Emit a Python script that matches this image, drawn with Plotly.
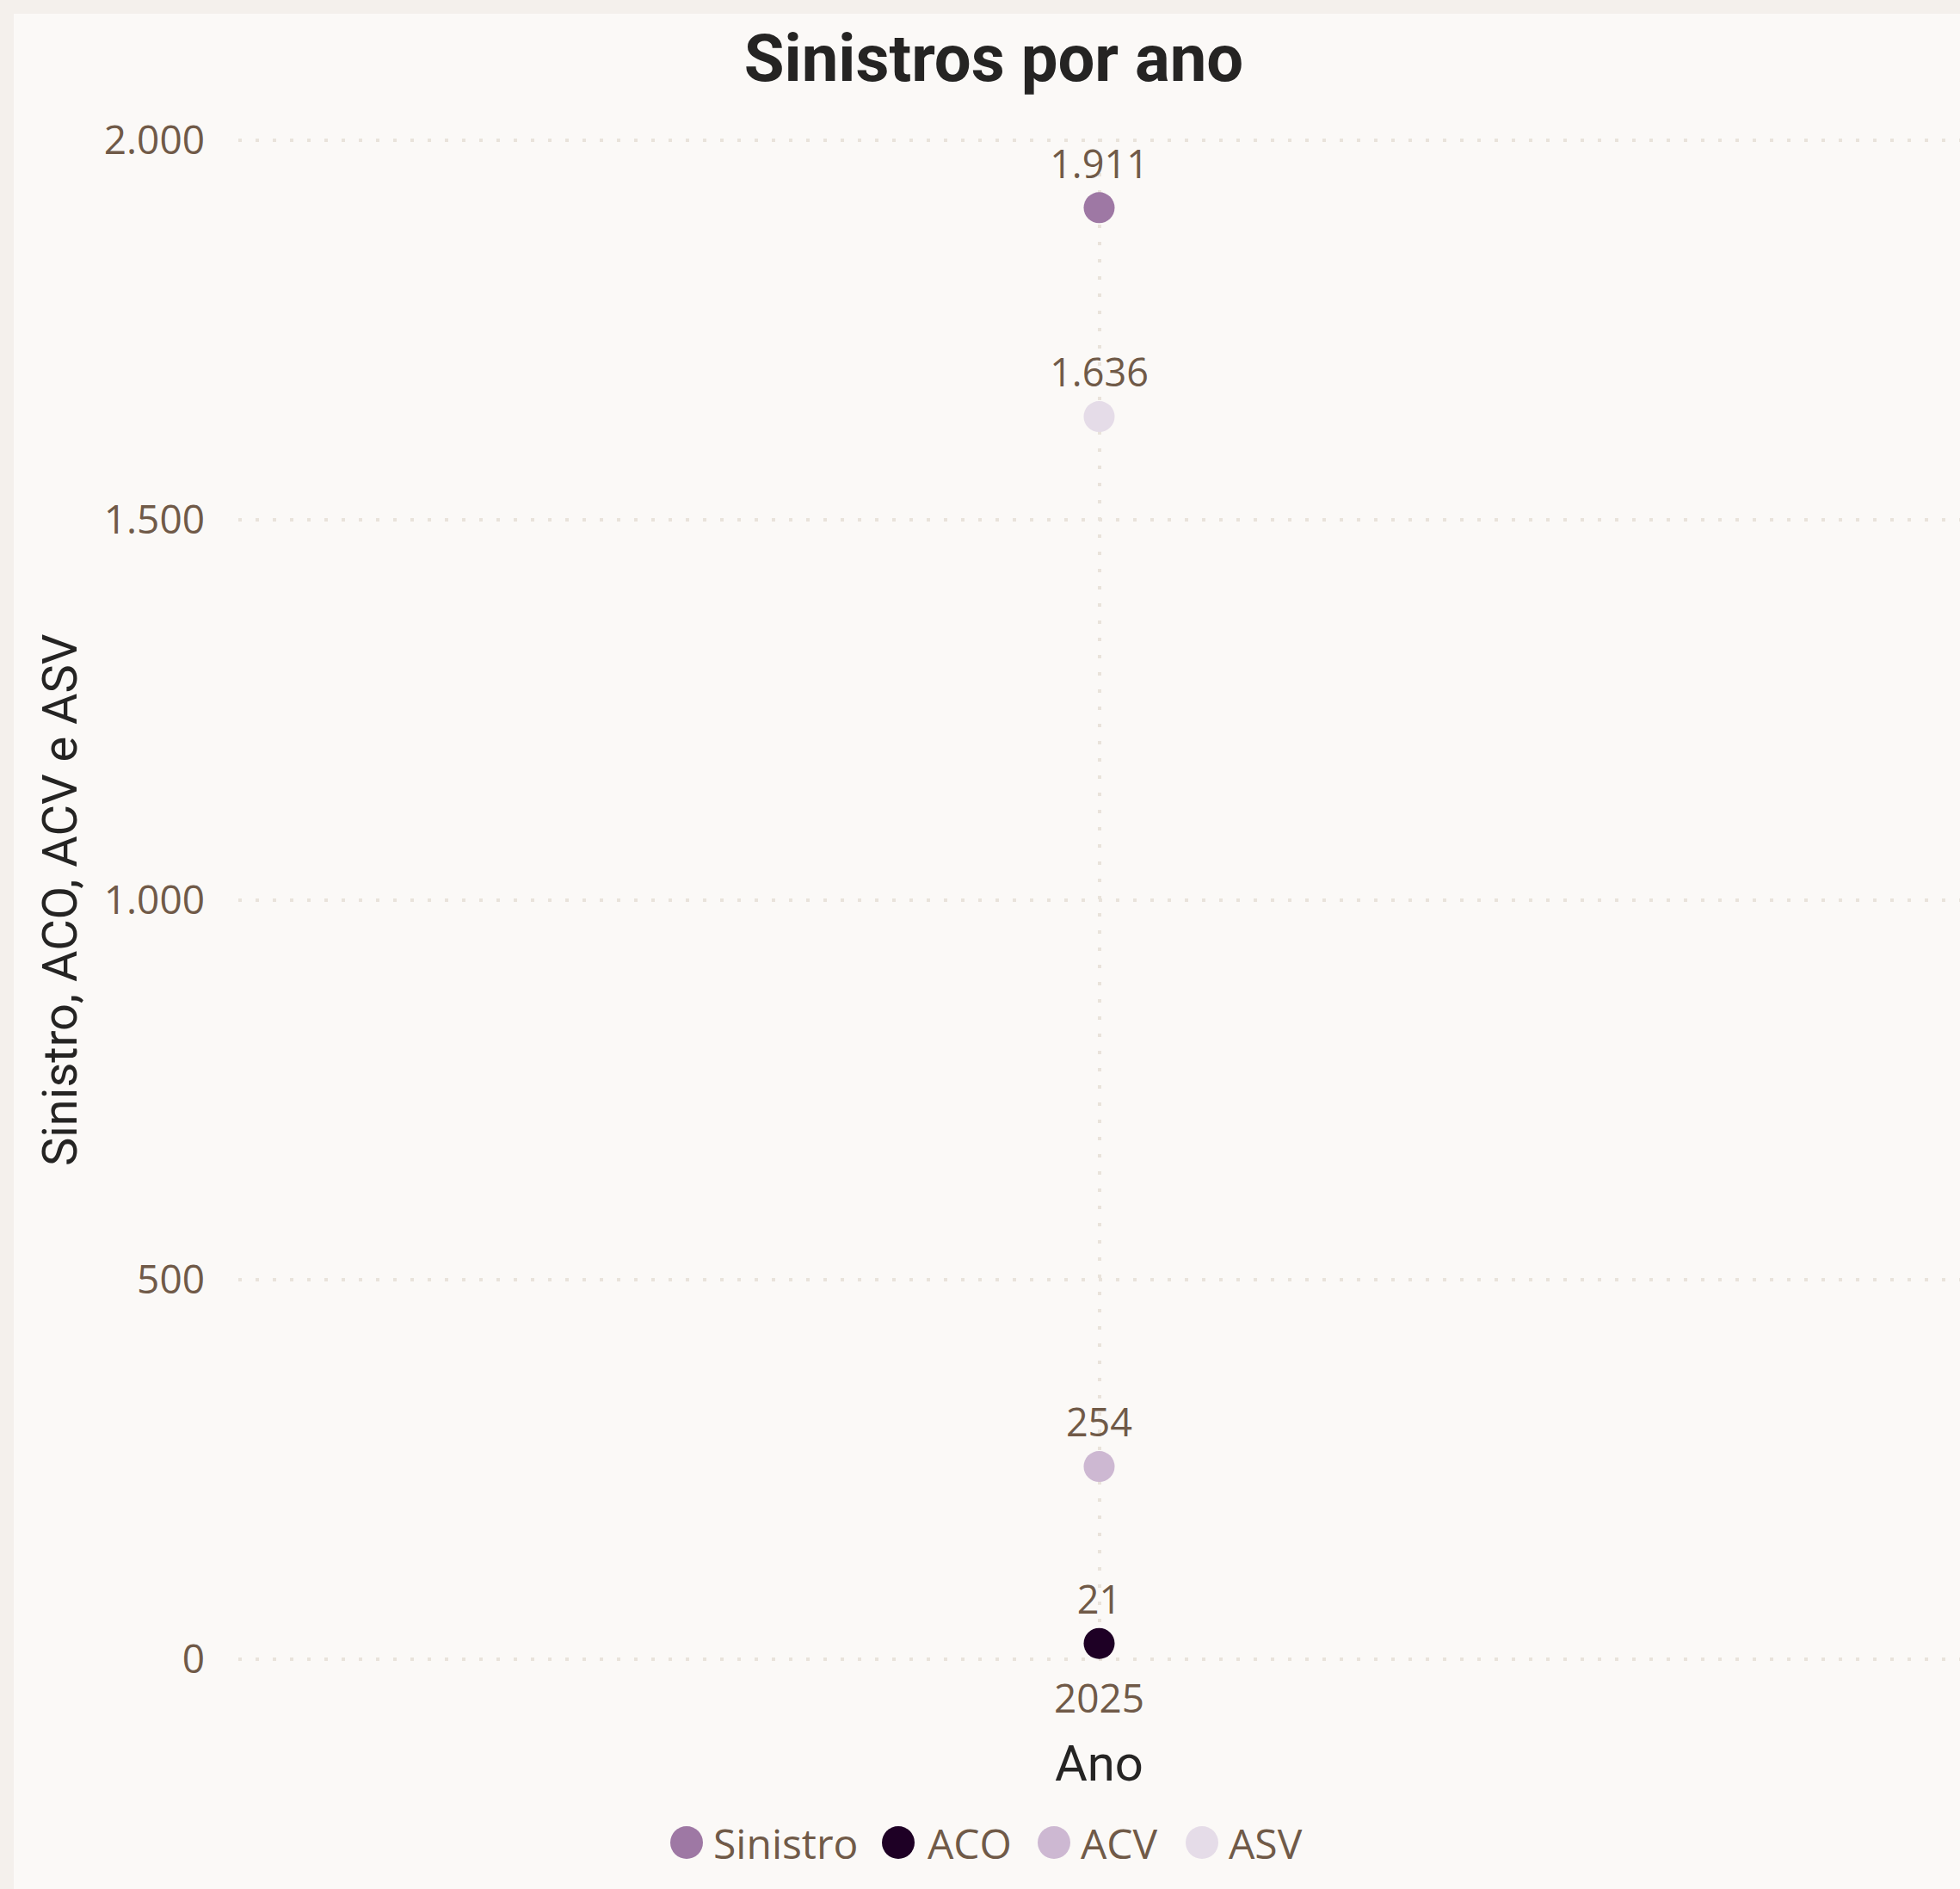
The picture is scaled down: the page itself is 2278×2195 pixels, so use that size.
import plotly.graph_objects as go

# Data
years = ["2025"]
series_names = ["Sinistro", "ACO", "ACV", "ASV"]
series_values = [[1911], [21], [254], [1636]]
series_colors = ["#9E78A4", "#1E0025", "#CDB8D2", "#E5DCE8"]
y_ticks = [0, 500, 1000, 1500, 2000]

# Canvas / plot-area geometry (pixels)
W_FIG, H_FIG = 2278, 2195
Y_PAD = 2  # small value padding so the 0 and 2.000 grid lines are drawn
M_L, M_R, M_T, M_B = 277, 0, 161, 265
PW = W_FIG - M_L - M_R
PH = H_FIG - M_T - M_B
BOTTOM = H_FIG - M_B


def fx(px):
    return (px - M_L) / PW


def fy(py):
    return (BOTTOM - py) / PH


TEXT_BROWN = "#705A48"
TITLE_DARK = "#252423"
GRID = "#E9E3DB"
FRAME = "#F4F0EC"
PANEL = "#FBF9F7"
NUM_FONT = "Open Sans"
HEAD_FONT = "Roboto"

fig = go.Figure()

for name, vals, color in zip(series_names, series_values, series_colors):
    fig.add_trace(go.Scatter(
        x=years,
        y=vals,
        name=name,
        mode="markers+text",
        marker=dict(size=36, color=color, line=dict(width=0)),
        text=vals,
        texttemplate="%{y:,}",
        textposition="top center",
        textfont=dict(family=NUM_FONT, size=45, color=TEXT_BROWN),
        showlegend=False,
        cliponaxis=False,
    ))

shapes = [
    # light inner panel over the frame colour
    dict(type="rect", xref="paper", yref="paper",
         x0=fx(16), x1=fx(W_FIG + 5), y0=fy(H_FIG + 5), y1=fy(16),
         fillcolor=PANEL, line=dict(width=0), layer="below"),
]

annotations = [
    dict(text="Sinistro, ACO, ACV e ASV", textangle=-90,
         xref="paper", yref="paper", x=fx(70), y=fy(1046),
         xanchor="center", yanchor="middle", showarrow=False,
         font=dict(family=HEAD_FONT, size=56, color=TITLE_DARK)),
    dict(text="Ano", xref="paper", yref="paper", x=fx(1277), y=fy(2049),
         xanchor="center", yanchor="middle", showarrow=False,
         font=dict(family=HEAD_FONT, size=58, color=TITLE_DARK)),
]

# Legend: circle swatches followed by the series name
legend_marker_x = [798, 1044, 1225, 1397]
legend_text_x = [827, 1076, 1254, 1426]
legend_y = 2141
for name, color, mx, tx in zip(series_names, series_colors, legend_marker_x, legend_text_x):
    shapes.append(dict(type="circle", xref="paper", yref="paper",
                       xsizemode="pixel", ysizemode="pixel",
                       xanchor=fx(mx), yanchor=fy(legend_y),
                       x0=-19, x1=19, y0=-19, y1=19,
                       fillcolor=color, line=dict(width=0), layer="above"))
    annotations.append(dict(text=name, xref="paper", yref="paper",
                            x=fx(tx), y=fy(legend_y),
                            xanchor="left", yanchor="middle", showarrow=False,
                            font=dict(family=NUM_FONT, size=48, color=TEXT_BROWN)))

fig.update_layout(
    width=W_FIG,
    height=H_FIG,
    margin=dict(l=M_L, r=M_R, t=M_T, b=M_B, pad=0),
    paper_bgcolor=FRAME,
    plot_bgcolor="rgba(0,0,0,0)",
    separators=",.",
    showlegend=False,
    title=dict(text="Sinistros por ano", x=1155 / W_FIG, xref="container", xanchor="center",
               y=1 - 67 / H_FIG, yref="container", yanchor="middle",
               font=dict(family=HEAD_FONT, size=76, color=TITLE_DARK, weight=700)),
    xaxis=dict(type="category", range=[-1, 1], showgrid=True, gridcolor=GRID, gridwidth=4,
               griddash="4px,16px", zeroline=False, showline=False, ticks="",
               ticklabelstandoff=13,
               tickfont=dict(family=NUM_FONT, size=46, color=TEXT_BROWN)),
    yaxis=dict(range=[-Y_PAD, 2000 + Y_PAD], tickvals=y_ticks, tickformat=",d", showgrid=True,
               gridcolor=GRID, gridwidth=4, griddash="4px,16px", zeroline=False,
               showline=False, ticks="", ticklabelstandoff=38,
               tickfont=dict(family=NUM_FONT, size=46, color=TEXT_BROWN)),
    shapes=shapes,
    annotations=annotations,
)

fig.write_html("out.html")
